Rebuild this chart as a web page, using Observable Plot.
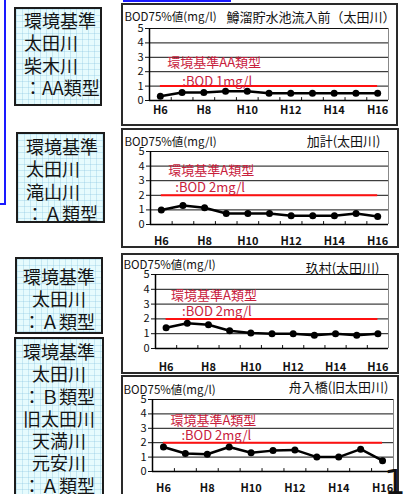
<!DOCTYPE html>
<html><head><meta charset="utf-8">
<script src="https://cdn.jsdelivr.net/npm/d3@7"></script>
<script src="https://cdn.jsdelivr.net/npm/@observablehq/plot@0.6"></script>
<style>
body{margin:0;background:#fff;font-family:"Noto Sans CJK JP",sans-serif;}
#root{position:relative;width:408px;height:494px;overflow:hidden;background:#fff;}
.box{position:absolute;box-sizing:border-box;border:2px solid #1c1c1c;background-color:#e6fbfd;
 background-image:linear-gradient(to right,rgba(140,200,225,.35) 1px,transparent 1px),linear-gradient(to bottom,rgba(140,200,225,.35) 1px,transparent 1px);
 background-size:6px 6px;font-size:18px;line-height:22.3px;color:#141414;white-space:pre;}
.frame{position:absolute;box-sizing:border-box;border:2px solid #2a2a2a;background:#fff;}
.chart{position:absolute;}
.blue{position:absolute;background:#1a1aff;}
</style></head>
<body><div id="root"></div>
<script>
// ---- data ----
const years = [6,7,8,9,10,11,12,13,14,15,16];
const xTickYears = [6,8,10,12,14,16];
const yTicks = [0,1,2,3,4,5];
const gridTicks = [1,2,3,4,5];
const yLabel = "BOD75%値(mg/l)";
const siteNames = ["鱒溜貯水池流入前（太田川）","加計(太田川)","玖村(太田川)","舟入橋(旧太田川)"];
const standardValues = [1,2,2,2];
const standardLabels = ["環境基準AA類型","環境基準A類型","環境基準A類型","環境基準A類型"];
const standardSubLabels = [":BOD 1mg/l",":BOD 2mg/l",":BOD 2mg/l",":BOD 2mg/l"];
const bod1 = [0.3,0.55,0.55,0.65,0.65,0.5,0.5,0.5,0.5,0.5,0.5];
const bod2 = [1.0,1.3,1.15,0.75,0.75,0.75,0.6,0.6,0.6,0.75,0.55];
const bod3 = [1.4,1.7,1.6,1.2,1.05,1.0,1.0,0.9,1.0,0.9,1.0];
const bod4 = [1.7,1.25,1.2,1.7,1.3,1.45,1.5,1.0,1.0,1.55,0.75];
const boxTexts = [
  ["環境基準","太田川","柴木川","：AA類型"],
  ["環境基準","太田川","滝山川","：Ａ類型"],
  ["環境基準","太田川","：Ａ類型"],
  ["環境基準","太田川","：Ｂ類型","旧太田川","天満川","元安川","：Ａ類型"]
];
const cornerText = "1(";

// ---- layout ----
const boxLayout = [
  {left:14,top:7,width:88,height:99,align:"left",pad:8,padTop:0},
  {left:16,top:132,width:89,height:91,align:"left",pad:8,padTop:1},
  {left:15,top:257,width:88,height:77,align:"center",pad:0,padTop:6},
  {left:14,top:337,width:90,height:170,align:"center",pad:0,padTop:1}
];
const frameLayout = [
  {left:121,top:3,width:277,height:123},
  {left:121,top:128,width:278,height:120},
  {left:121,top:253,width:278,height:121},
  {left:121,top:375,width:278,height:140}
];
const chartLayout = [
  {left:123,top:5,width:274,height:120,mL:26,mR:9,mT:23,mB:25,pad:5.5,tl:[-25,-11],tr:[7,-11],a1:[7,-23],a2:[22,-4]},
  {left:123,top:130,width:275,height:117,mL:27,mR:10,mT:21,mB:23,pad:12.5,tl:[-26,-9],tr:[-8,-10],a1:[7,-24],a2:[14,-7]},
  {left:123,top:255,width:275,height:118,mL:32,mR:10,mT:19,mB:25,pad:14.5,tl:[-32,-9],tr:[-9,-6],a1:[5,-23],a2:[16,-7]},
  {left:123,top:377,width:275,height:130,mL:29,mR:5,mT:22,mB:36,pad:12.5,tl:[-29,-9],tr:[-5,-12],a1:[7,-22],a2:[18,-7]}
];
const series = [bod1,bod2,bod3,bod4];
const FONT = "'Noto Sans CJK JP', sans-serif";

const root = document.getElementById("root");
function add(el){root.appendChild(el);return el;}

// blue decorations
[{left:4,top:0,width:2,height:205},{left:0,top:203,width:6,height:2},{left:123,top:0,width:108,height:2}].forEach(r=>{
  const d=document.createElement("div");d.className="blue";
  Object.assign(d.style,{left:r.left+"px",top:r.top+"px",width:r.width+"px",height:r.height+"px"});add(d);
});

// left label boxes
boxTexts.forEach((lines,i)=>{
  const b=boxLayout[i];const d=document.createElement("div");d.className="box";
  Object.assign(d.style,{left:b.left+"px",top:b.top+"px",width:b.width+"px",height:b.height+"px",textAlign:b.align,paddingLeft:b.pad+"px",paddingTop:b.padTop+"px"});
  d.textContent=lines.join("\n");add(d);
});

// charts
series.forEach((vals,i)=>{
  const f=frameLayout[i];const fr=document.createElement("div");fr.className="frame";
  Object.assign(fr.style,{left:f.left+"px",top:f.top+"px",width:f.width+"px",height:f.height+"px"});add(fr);
  const L=chartLayout[i];
  const data=years.map((y,j)=>({year:y,v:vals[j]}));
  const bounds=years.slice(1).map(y=>y-0.5);
  const x0=years[0]-0.5, x1=years[years.length-1]+0.5;
  const std=standardValues[i];
  const chart=Plot.plot({
    width:L.width,height:L.height,marginLeft:L.mL,marginRight:L.mR,marginTop:L.mT,marginBottom:L.mB,
    style:{fontFamily:FONT,fontSize:"11px",color:"#111",background:"transparent",overflow:"visible"},
    x:{domain:[x0,x1]},
    y:{domain:[0,5]},
    marks:[
      Plot.gridY(gridTicks,{stroke:"#111",strokeOpacity:1,strokeWidth:1}),
      Plot.ruleX([x1],{stroke:"#888",strokeWidth:1}),
      Plot.ruleX(bounds,{y1:0,y2:0.2,stroke:"#111",strokeWidth:1}),
      Plot.ruleY([std],{x1:years[0],x2:years[years.length-1],stroke:"#ff1010",strokeWidth:2}),
      Plot.text([standardLabels[i]],{x:years[0],y:std,dx:L.a1[0],dy:L.a1[1],textAnchor:"start",fill:"#c8203c",fontSize:13,fontFamily:FONT}),
      Plot.text([standardSubLabels[i]],{x:years[0],y:std,dx:L.a2[0],dy:L.a2[1],textAnchor:"start",fill:"#c8203c",fontSize:13,fontFamily:FONT}),
      Plot.line(data,{x:"year",y:"v",stroke:"#000",strokeWidth:2.5}),
      Plot.dot(data,{x:"year",y:"v",r:3.5,fill:"#000"}),
      Plot.ruleX([x0],{stroke:"#000",strokeWidth:1.5}),
      Plot.ruleY([0],{stroke:"#000",strokeWidth:1.5}),
      Plot.axisY({ticks:yTicks,tickFormat:d=>String(d),tickSize:4,tickPadding:2,label:null,fontSize:11}),
      Plot.axisX({ticks:xTickYears,tickFormat:d=>"H"+d,tickSize:0,tickPadding:L.pad,label:null,fontSize:11,fontWeight:"bold"}),
      Plot.text([yLabel],{frameAnchor:"top-left",dx:L.tl[0],dy:L.tl[1],textAnchor:"start",lineAnchor:"middle",fontSize:11.5,fill:"#111",fontFamily:FONT}),
      Plot.text([siteNames[i]],{frameAnchor:"top-right",dx:L.tr[0],dy:L.tr[1],textAnchor:"end",lineAnchor:"middle",fontSize:13,fill:"#111",fontFamily:FONT})
    ]
  });
  chart.classList.add("chart");
  Object.assign(chart.style,{left:L.left+"px",top:L.top+"px"});
  add(chart);
});

// cropped large glyph at bottom right
const c=document.createElement("div");
Object.assign(c.style,{position:"absolute",left:"384px",top:"462px",fontSize:"34px",lineHeight:"40px",fontFamily:"'DejaVu Sans',sans-serif",color:"#111"});
c.textContent=cornerText;add(c);
</script></body></html>
